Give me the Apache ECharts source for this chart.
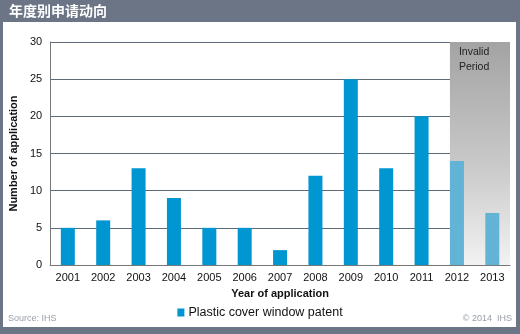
<!DOCTYPE html>
<html><head><meta charset="utf-8">
<script src="https://cdn.jsdelivr.net/npm/echarts@6/dist/echarts.min.js"></script>
<style>html,body{margin:0;padding:0;background:#6b7585}#c{width:520px;height:334px}</style>
</head><body><div id="c"></div>
<script>
const years = ['2001','2002','2003','2004','2005','2006','2007','2008','2009','2010','2011','2012','2013'];
const patents = [5,6,13,9,5,5,2,12,25,13,20,14,7];
const invalidYears = ['2012','2013'];
const yTicks = [0,5,10,15,20,25,30];
const seriesName = 'Plastic cover window patent';

const chart = echarts.init(document.getElementById('c'));
const yMax = yTicks[yTicks.length-1];
const bgData = years.map(y => invalidYears.includes(y) ? {
  value: yMax,
  label: invalidYears[0] === y ? {show:true, formatter:'Invalid\nPeriod', position:[9,3], align:'left', verticalAlign:'top', color:'#222', fontSize:10.5, fontFamily:'Liberation Sans', lineHeight:15} : {show:false}
} : null);
chart.setOption({
  backgroundColor:'#6b7585',
  animation:false,
  graphic:[
    {type:'rect', shape:{x:3,y:22,width:513,height:305}, style:{fill:'#ffffff'}, z:-10},
    {type:'text', left:9, top:4, style:{text:'年度别申请动向', fill:'#ffffff', font:'bold 14px "Noto Sans CJK SC"'}},
    {type:'text', left:8, top:314, style:{text:'Source: IHS', fill:'#9aa0a8', font:'9px "Liberation Sans"'}},
    {type:'text', right:8, top:314, style:{text:'© 2014  IHS', fill:'#9aa0a8', font:'9px "Liberation Sans"'}}
  ],
  grid:{left:48, right:10, top:42, bottom:69},
  legend:{data:[seriesName], left:'center', top:301, itemWidth:7, itemHeight:8, icon:'rect', itemGap:4,
    textStyle:{fontSize:12.5, color:'#111', fontFamily:'Liberation Sans', padding:[0,0,0,-1]}},
  xAxis:{type:'category', data:years, name:'Year of application', nameLocation:'middle', nameGap:23,
    nameTextStyle:{fontWeight:'bold', fontSize:11, color:'#111', fontFamily:'Liberation Sans'},
    axisLine:{lineStyle:{color:'#777'}}, axisTick:{inside:true, length:4, lineStyle:{color:'#777'}},
    axisLabel:{color:'#111', fontSize:11, fontFamily:'Liberation Sans', margin:7}},
  yAxis:{type:'value', min:0, max:yMax, interval:5, name:'Number of application', nameLocation:'middle', nameGap:30,
    nameTextStyle:{fontWeight:'bold', fontSize:11, color:'#111', fontFamily:'Liberation Sans'},
    axisLine:{show:true, lineStyle:{color:'#777'}}, axisTick:{show:false},
    splitLine:{lineStyle:{color:'#5f6a78', width:1}},
    axisLabel:{color:'#111', fontSize:11, fontFamily:'Liberation Sans', margin:8}},
  series:[
    {type:'bar', name:'invalid', data:bgData, barWidth:'104%', barGap:'-100%', z:1, silent:true,
      itemStyle:{color:new echarts.graphic.LinearGradient(0,0,0,1,[{offset:0,color:'#a3a3a3'},{offset:0.55,color:'#c9c9c9'},{offset:1,color:'#f2f2f2'}])}},
    {type:'bar', name:seriesName, data:patents.map((v,i)=>({value:v, itemStyle:{color: invalidYears.includes(years[i]) ? '#62b3d6' : '#0096d1'}})),
      barWidth:14, barGap:'-100%', z:3, itemStyle:{color:'#0096d1'}}
  ]
});
</script></body></html>
